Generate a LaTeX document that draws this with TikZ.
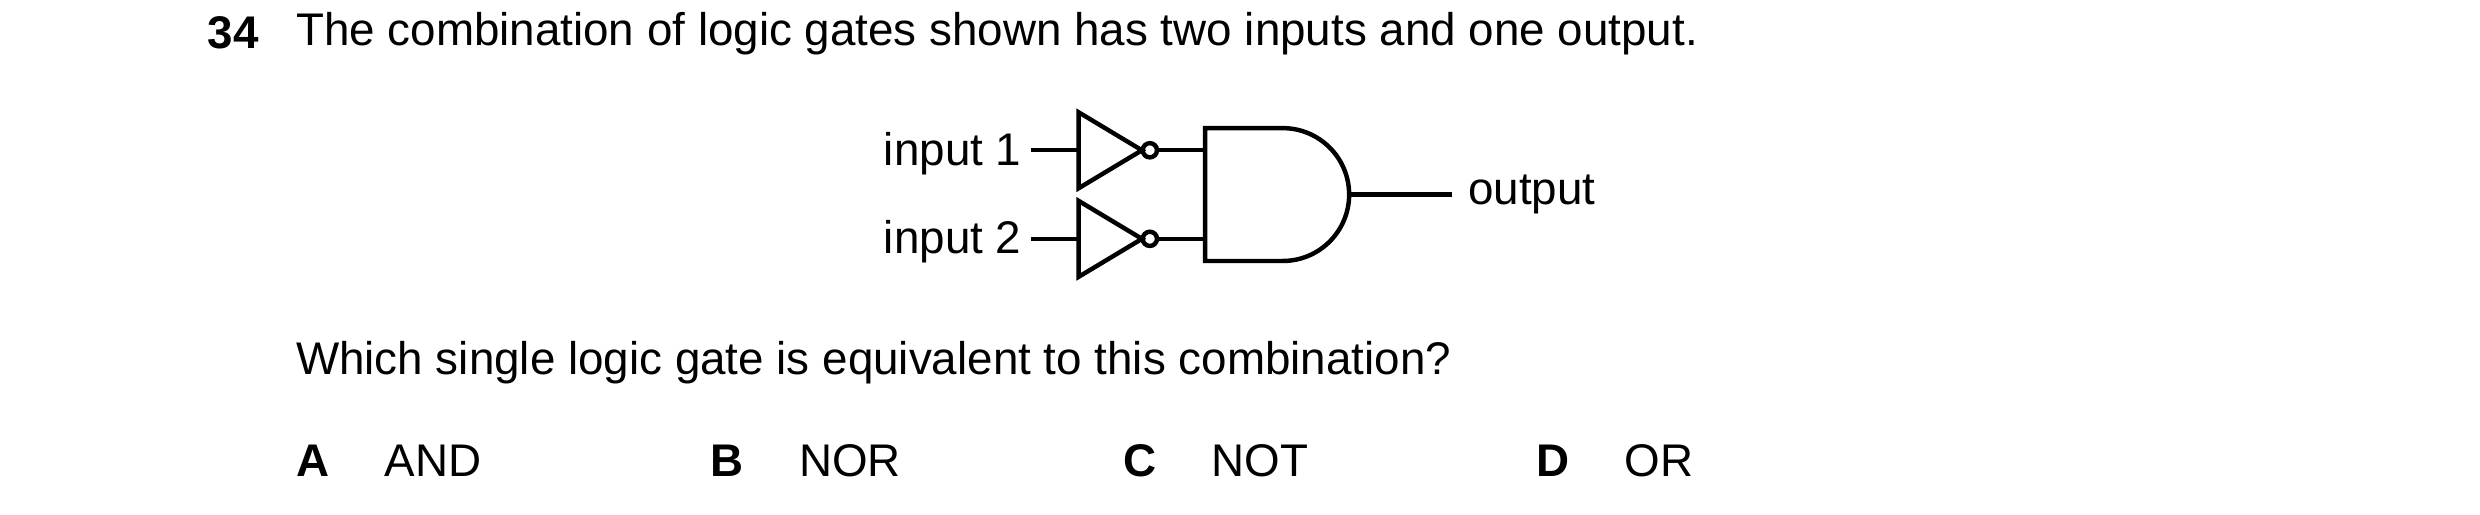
\documentclass[tikz,border=0pt]{standalone}
\usepackage{fontspec}
\setmainfont{Liberation Sans}
\usetikzlibrary{calc}
\tikzset{
  txt/.style={inner sep=0pt, font=\fontsize{24.7}{29}\selectfont},
  wire/.style={line width=2.4pt},
}
\begin{document}
\begin{tikzpicture}[x=0.3mm, y=-0.3mm, line join=miter]
\useasboundingbox (0,0) rectangle (1568,325);

% question text
\node[txt, font=\fontsize{24.7}{29}\selectfont\bfseries, anchor=west] (num) at (131,21) {34};
\node[txt, anchor=west] (title) at (187,21) {The combination of logic gates shown has two inputs and one output.};

% inputs
\node[txt, anchor=east] (in1) at (646,97) {input 1};
\node[txt, anchor=east] (in2) at (646,153) {input 2};
\coordinate (a1) at (652,95);
\coordinate (a2) at (652,151);

% two NOT gates
\foreach \y/\n in {95/1, 151/2} {
  \draw[wire] (682,\y-24) -- (722,\y) -- (682,\y+24) -- cycle;
  \draw[wire] (727,\y) circle (4.5);
  \coordinate (n\n) at (682,\y);
  \coordinate (b\n) at (731.5,\y);
  \coordinate (g\n) at (762,\y);
}
\draw[wire] (a1) -- (n1);
\draw[wire] (a2) -- (n2);
\draw[wire] (b1) -- (g1);
\draw[wire] (b2) -- (g2);

% AND gate
\draw[wire] (811,81) -- (762,81) -- (762,165) -- (811,165)
  arc[start angle=-90, end angle=90, x radius=42, y radius=-42];
\coordinate (g3) at (853,123);
\node[txt, anchor=west] (out) at (928,123) {output};
\draw[wire] (g3) -- (out.west -| 918,123);

\node[txt, anchor=west] (ask) at (187,229) {Which single logic gate is equivalent to this combination?};

% options
\foreach \x/\l/\t in {187/A/AND, 449/B/NOR, 710/C/NOT, 971/D/OR} {
  \node[txt, font=\fontsize{24.7}{29}\selectfont\bfseries, anchor=west] (opt\l) at (\x,291) {\l};
  \node[txt, anchor=west] (ans\l) at (\x+56,291) {\t};
}
\end{tikzpicture}
\end{document}
